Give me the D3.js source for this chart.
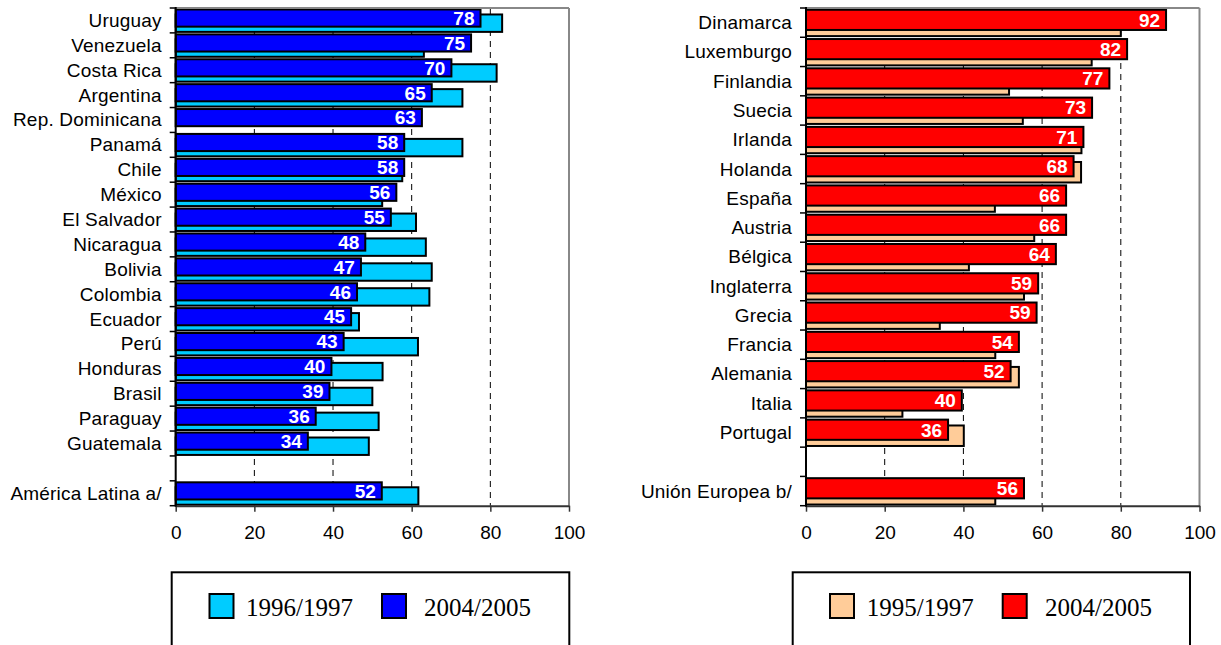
<!DOCTYPE html>
<html><head><meta charset="utf-8">
<script src="https://cdn.jsdelivr.net/npm/d3@7"></script>
<style>body{margin:0;background:#fff}svg{display:block}</style>
</head><body>
<svg id="c" width="1221" height="645"></svg>
<script>
const leftCats = ["Uruguay","Venezuela","Costa Rica","Argentina","Rep. Dominicana","Panamá","Chile","México","El Salvador","Nicaragua","Bolivia","Colombia","Ecuador","Perú","Honduras","Brasil","Paraguay","Guatemala","","América Latina a/"];
const left2005 = [77.5,75.1,70.1,65.1,62.6,58.1,58.1,56.1,54.7,48.2,47.1,46.1,44.6,42.7,39.6,39.1,35.6,33.6,null,52.4];
const left1996 = [83.0,63.1,81.6,72.9,null,72.9,57.6,52.5,61.1,63.6,65.1,64.5,46.6,61.6,52.6,50.0,51.6,49.1,null,61.7];
const leftLabels = [78,75,70,65,63,58,58,56,55,48,47,46,45,43,40,39,36,34,null,52];
const leftLegend = ["1996/1997","2004/2005"];

const rightCats = ["Dinamarca","Luxemburgo","Finlandia","Suecia","Irlanda","Holanda","España","Austria","Bélgica","Inglaterra","Grecia","Francia","Alemania","Italia","Portugal","","Unión Europea b/"];
const right2005 = [91.5,81.6,77.1,72.7,70.5,68.0,66.1,66.1,63.5,59.0,58.6,54.1,52.0,39.6,36.1,null,55.4];
const right1995 = [80.0,72.6,51.6,55.1,70.0,69.9,48.0,58.0,41.4,55.4,34.0,48.1,54.1,24.5,40.1,null,48.1];
const rightLabels = [92,82,77,73,71,68,66,66,64,59,59,54,52,40,36,null,56];
const rightLegend = ["1995/1997","2004/2005"];

const xTicks = [0,20,40,60,80,100];

const svg = d3.select("#c");
svg.append("rect").attr("width",1221).attr("height",645).attr("fill","#fff");
const SANS = "'Liberation Sans',Arial,Helvetica,sans-serif";

function panel(o){
  const g = svg.append("g");
  const x = d3.scaleLinear().domain([0,100]).range([o.x0,o.x1]);
  const y = d3.scaleBand().domain(d3.range(o.cats.length)).range([8,505.7]).padding(0);
  const bw = y.bandwidth();
  g.selectAll(".grid").data(xTicks.filter(t=>t>0&&t<100)).enter().append("line")
    .attr("x1",d=>x(d)).attr("x2",d=>x(d)).attr("y1",8).attr("y2",505.7)
    .attr("stroke","#000").attr("stroke-width",1).attr("stroke-dasharray","6,5");
  g.selectAll(".old").data(o.old.map((v,i)=>({v,i})).filter(d=>d.v!=null)).enter().append("rect")
    .attr("x",x(0)).attr("width",d=>x(d.v)-x(0))
    .attr("y",d=>y(d.i)+bw*0.26).attr("height",bw*0.70)
    .attr("fill",o.cOld).attr("stroke","#000").attr("stroke-width",2);
  g.selectAll(".new").data(o.neu.map((v,i)=>({v,i})).filter(d=>d.v!=null)).enter().append("rect")
    .attr("x",x(0)).attr("width",d=>x(d.v)-x(0))
    .attr("y",d=>y(d.i)+bw*0.06).attr("height",bw*0.69)
    .attr("fill",o.cNew).attr("stroke","#000").attr("stroke-width",2);
  g.selectAll(".lab").data(o.neu.map((v,i)=>({v,i,l:o.labels[i]})).filter(d=>d.v!=null)).enter().append("text")
    .attr("x",d=>x(d.v)-6).attr("y",d=>y(d.i)+bw*0.06+bw*0.345+6.8)
    .attr("text-anchor","end").attr("fill","#fff")
    .attr("font-family",SANS).attr("font-weight","bold").attr("font-size",19)
    .text(d=>d.l);
  g.append("line").attr("x1",x(0)).attr("x2",x(100)).attr("y1",8).attr("y2",8).attr("stroke","#888").attr("stroke-width",2);
  g.append("line").attr("x1",x(100)).attr("x2",x(100)).attr("y1",8).attr("y2",505.7).attr("stroke","#888").attr("stroke-width",2);
  const xa = g.append("g").attr("transform","translate(0,505.7)")
    .call(d3.axisBottom(x).tickValues(xTicks).tickSize(6).tickSizeOuter(0).tickPadding(14));
  xa.select(".domain").attr("stroke","#333").attr("stroke-width",2);
  xa.selectAll(".tick line").attr("stroke","#333").attr("stroke-width",1.5);
  xa.selectAll("text").attr("font-family",SANS).attr("font-size",19).attr("fill","#000");
  g.append("line").attr("x1",x(0)).attr("x2",x(0)).attr("y1",7).attr("y2",506.7).attr("stroke","#000").attr("stroke-width",2);
  const bounds = d3.range(o.cats.length+1).map(i=>8+i*bw);
  g.selectAll(".yt").data(bounds).enter().append("line")
    .attr("x1",x(0)-6).attr("x2",x(0)).attr("y1",d=>d).attr("y2",d=>d)
    .attr("stroke","#000").attr("stroke-width",1.5);
  g.selectAll(".cat").data(o.cats).enter().append("text")
    .attr("x",x(0)-14).attr("y",(d,i)=>y(i)+bw/2+6.5)
    .attr("text-anchor","end").attr("fill","#000")
    .attr("font-family",SANS).attr("font-size",19)
    .attr("letter-spacing",0.2)
    .text(d=>d);
  const L = o.legend;
  g.append("rect").attr("x",L.x).attr("y",572.3).attr("width",L.w).attr("height",100)
    .attr("fill","#fff").attr("stroke","#000").attr("stroke-width",2);
  const items = [{t:o.legendNames[0],c:o.cOld,sx:L.s1,tx:L.t1},{t:o.legendNames[1],c:o.cNew,sx:L.s2,tx:L.t2}];
  items.forEach(it=>{
    g.append("rect").attr("x",it.sx).attr("y",594).attr("width",24).attr("height",24)
      .attr("fill",it.c).attr("stroke","#000").attr("stroke-width",2);
    g.append("text").attr("x",it.tx).attr("y",616).attr("font-family","'Liberation Serif','Times New Roman',serif")
      .attr("font-size",25).attr("fill","#000").text(it.t);
  });
}

panel({cats:leftCats,neu:left2005,old:left1996,labels:leftLabels,x0:175.7,x1:569,
  cNew:"#0000ff",cOld:"#00ccff",legendNames:leftLegend,
  legend:{x:171.7,w:397.6,s1:209.5,t1:246,s2:382,t2:424}});
panel({cats:rightCats,neu:right2005,old:right1995,labels:rightLabels,x0:806,x1:1199.5,
  cNew:"#ff0000",cOld:"#ffcc99",legendNames:rightLegend,
  legend:{x:792.7,w:397.3,s1:830,t1:866.7,s2:1002.7,t2:1045}});
</script>
</body></html>
